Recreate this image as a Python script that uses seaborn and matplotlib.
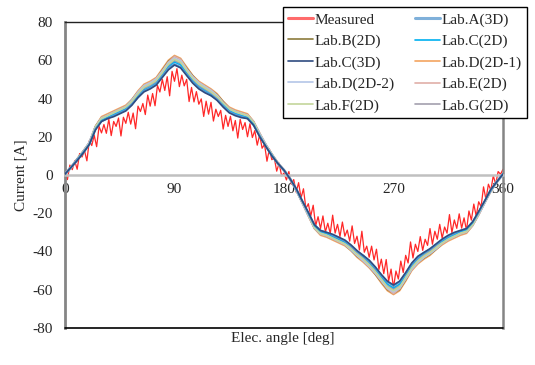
import numpy as np
import pandas as pd
import matplotlib
matplotlib.use('Agg')
import matplotlib.pyplot as plt
from matplotlib.lines import Line2D
import seaborn as sns

# measured current, every 2 deg (0..360)
angle_meas = np.arange(0, 361, 2)
measured = [
    0, -2.4, 5.2, 2.8, 7.4, 3, 11.2, 9.4, 12.8, 7.4,
    18, 15.4, 20.8, 14.8, 25.4, 22, 26.4, 21.8, 29.2, 20.6,
    28, 25.4, 29.8, 20.4, 30.2, 27, 32.8, 26.6, 32.4, 24.2,
    36, 33.2, 37.4, 31.6, 41.8, 36, 42.6, 36.2, 46.8, 43.4,
    50, 44.2, 51.4, 41.4, 54.2, 49, 55.6, 46.2, 52.2, 46.6,
    50, 38.4, 45.8, 38.2, 43.6, 37, 39.8, 30.6, 38.6, 31.8,
    38, 28.2, 34.4, 30.6, 33.8, 24, 31.2, 25.4, 30.7, 23.1,
    28.5, 19.3, 29.1, 23.8, 27.4, 20, 26.8, 19.6, 23.2, 15.6,
    21, 14, 16, 7.2, 13.6, 8, 9, 2, 6.2, -0.4,
    1,
    -2.6, 1.8, -4.8, -2.4, -9, -4, -12, -7.2, -17.6, -15,
    -21.4, -15.8, -26.6, -21.8, -28, -21.4, -29.8, -25.2, -30.6, -21,
    -30.4, -25.8, -32.2, -24.6, -32, -28.8, -34.6, -26.6, -35.8, -32,
    -39.2, -29.4, -40.4, -37.2, -43, -37.2, -44.4, -38.8, -49.4, -44,
    -51.6, -44.2, -55.4, -49.2, -59, -50.2, -54.4, -45, -51, -42,
    -46, -35, -43.4, -36.2, -40, -32.2, -39.4, -33.6, -36.8, -28,
    -36.2, -29.4, -33.6, -25.8, -33, -27.2, -30.4, -20.7, -30.1, -23.5,
    -27.9, -20.3, -27.8, -22.4, -29, -18.8, -23.6, -15.2, -21.6, -14,
    -16.6, -6.2, -12.8, -4.8, -8, -0.4, -4.8, 1.8, 0.4, 3,
]

# simulation results, every 5 deg (0..360)
angle_sim = np.arange(0, 361, 5)
lab_a_3d = [0.5, 4, 8, 11.5, 16, 24, 28, 29.5, 31, 32.5, 34, 37, 40.5, 44, 45.5, 47.5, 51.5, 56, 58,
            56.5, 52.5, 48.5, 45.5, 43.5, 41.5, 39.5, 36, 33, 31.5, 30.5, 29.5, 26, 20.5, 15, 10, 6, 2.5,
            -2, -7.5, -13.5, -20, -26, -29, -30, -31.5, -33, -34.5, -37, -40, -42, -45, -48.5, -52.5, -56, -58,
            -56, -51.5, -46.5, -43, -40.5, -39, -36.5, -34, -32, -30.5, -29, -28, -24.5, -19.5, -13.5, -8, -3.5, 0.5]
lab_b_2d = [0.5, 4, 8.5, 12.5, 17, 25.5, 30, 31.5, 33, 34.5, 36, 39.5, 43.5, 47, 48.5, 50.5, 55, 59.5, 62,
            60.5, 56, 52, 48.5, 46.5, 44.5, 42, 38.5, 35, 33.5, 32.5, 31.5, 28, 21.5, 16, 11, 6, 2.5,
            -2, -8, -14.5, -21, -28, -31, -32, -33.5, -35, -36.5, -39.5, -42.5, -45, -48, -52, -56, -60, -62,
            -60, -55, -49.5, -46, -43.5, -41.5, -39, -36, -34, -32.5, -31, -30, -26.5, -20.5, -14.5, -8.5, -3.5, 0.5]
lab_c_2d = [0.5, 4, 8, 12, 16, 24, 28.5, 30, 31.5, 33, 34.5, 37, 41, 44.5, 46, 48, 52, 56.5, 59,
            57.5, 53, 49, 46, 44, 42, 39.5, 36.5, 33.5, 32, 31, 30, 26.5, 20.5, 15, 10.5, 6, 2.5,
            -2, -7.5, -13.5, -20, -26.5, -29.5, -30.5, -32, -33.5, -35, -37, -40, -42.5, -45.5, -49, -53, -57, -59,
            -57, -52, -47, -43.5, -41, -39, -36.5, -34.5, -32.5, -31, -29.5, -28.5, -25, -19.5, -13.5, -8, -3.5, 0.5]
lab_c_3d = [0.5, 4, 7.5, 11.5, 16, 23.5, 28, 29.5, 30.5, 32, 33.5, 36.5, 40.5, 43.5, 45, 47, 51, 55, 57.5,
            56, 52, 48, 45, 43, 41.5, 39, 35.5, 32.5, 31, 30, 29.5, 26, 20, 15, 10, 6, 2.5,
            -2, -7, -13.5, -19.5, -26, -29, -30, -31, -32.5, -34, -36.5, -39.5, -42, -44.5, -48, -52, -55.5, -57.5,
            -55.5, -51, -46, -42.5, -40.5, -38.5, -36, -33.5, -31.5, -30, -29, -28, -24.5, -19, -13.5, -7.5, -3.5, 0.5]
lab_d_2d1 = [0.5, 4, 8.5, 12.5, 17, 25.5, 30.5, 32, 33.5, 35, 36.5, 39.5, 44, 47.5, 49, 51, 55.5, 60, 62.5,
             61, 56.5, 52, 49, 47, 45, 42.5, 38.5, 35.5, 34, 33, 32, 28, 22, 16, 11, 6.5, 2.5,
             -2, -8, -14.5, -21.5, -28, -31.5, -32.5, -34, -35.5, -37, -39.5, -43, -45.5, -48.5, -52, -56.5, -60.5, -62.5,
             -60.5, -55.5, -50, -46.5, -44, -42, -39, -36.5, -34.5, -33, -31.5, -30.5, -26.5, -21, -14.5, -8.5, -3.5, 0.5]
lab_d_2d2 = [0.5, 4, 8, 12, 17, 25, 29.5, 31, 32.5, 34, 35.5, 39, 43, 46.5, 48, 50, 54, 58.5, 61,
             59.5, 55, 51, 48, 46, 44, 41.5, 37.5, 34.5, 33, 32, 31, 27.5, 21.5, 16, 10.5, 6, 2.5,
             -2, -7.5, -14.5, -21, -27.5, -30.5, -31.5, -33, -34.5, -36, -39, -42, -44.5, -47.5, -51, -55, -59, -61,
             -59, -54, -49, -45.5, -43, -41, -38.5, -35.5, -33.5, -32, -30.5, -29.5, -26, -20.5, -14.5, -8, -3.5, 0.5]
lab_e_2d = [0.5, 4, 8, 12.5, 17, 25, 30, 31.5, 33, 34.5, 36, 39, 43.5, 47, 48.5, 50.5, 54.5, 59, 62,
            60.5, 55.5, 51.5, 48.5, 46.5, 44.5, 41.5, 38, 35, 33.5, 32.5, 31.5, 28, 21.5, 16, 11, 6, 2.5,
            -2, -7.5, -14.5, -21, -28, -31, -32, -33.5, -35, -36.5, -39, -42, -45, -48, -51.5, -55.5, -59.5, -62,
            -59.5, -54.5, -49.5, -46, -43, -41, -38.5, -36, -34, -32.5, -31, -30, -26.5, -20.5, -14.5, -8, -3.5, 0.5]
lab_f_2d = [0.5, 4, 8, 12, 16.5, 25, 29.5, 31, 32.5, 34, 35.5, 38.5, 42.5, 46, 47.5, 49.5, 53.5, 58, 60.5,
            59, 54.5, 50.5, 47.5, 45.5, 43.5, 41, 37.5, 34.5, 33, 32, 31, 27.5, 21, 15.5, 10.5, 6, 2.5,
            -2, -7.5, -14, -20.5, -27.5, -30.5, -31.5, -33, -34.5, -36, -38.5, -41.5, -44, -47, -50.5, -54.5, -58.5, -60.5,
            -58.5, -53.5, -48.5, -45, -42.5, -40.5, -38, -35.5, -33.5, -32, -30.5, -29.5, -26, -20, -14, -8, -3.5, 0.5]
lab_g_2d = [0.5, 4, 8, 12, 16.5, 24.5, 29, 30.5, 32, 33.5, 35, 38, 42, 45.5, 47, 49, 53, 57.5, 60,
            58.5, 54, 50, 47, 45, 43, 40.5, 37, 34, 32.5, 31.5, 30.5, 27, 21, 15.5, 10.5, 6, 2.5,
            -2, -7.5, -14, -20.5, -27, -30, -31, -32.5, -34, -35.5, -38, -41, -43.5, -46.5, -50, -54, -58, -60,
            -58, -53, -48, -44.5, -42, -40, -37.5, -35, -33, -31.5, -30, -29, -25.5, -20, -14, -8, -3.5, 0.5]

labs = ['Lab.A(3D)', 'Lab.B(2D)', 'Lab.C(2D)', 'Lab.C(3D)', 'Lab.D(2D-1)',
        'Lab.D(2D-2)', 'Lab.E(2D)', 'Lab.F(2D)', 'Lab.G(2D)']
sims = [lab_a_3d, lab_b_2d, lab_c_2d, lab_c_3d, lab_d_2d1,
        lab_d_2d2, lab_e_2d, lab_f_2d, lab_g_2d]
colors = {'Measured': '#FF1010',
          'Lab.A(3D)': '#5B9BD5', 'Lab.B(2D)': '#8C7B3C', 'Lab.C(2D)': '#00B0F0',
          'Lab.C(3D)': '#2F4C80', 'Lab.D(2D-1)': '#F4A460', 'Lab.D(2D-2)': '#B4C6E7',
          'Lab.E(2D)': '#E0AFA8', 'Lab.F(2D)': '#C3D69B', 'Lab.G(2D)': '#A3A0AE'}
widths = {'Lab.A(3D)': 1.3, 'Lab.B(2D)': 1.0, 'Lab.C(2D)': 1.0, 'Lab.C(3D)': 1.2,
          'Lab.D(2D-1)': 1.2, 'Lab.D(2D-2)': 1.5, 'Lab.E(2D)': 1.2, 'Lab.F(2D)': 1.2,
          'Lab.G(2D)': 2.0}
draw_order = ['Lab.D(2D-1)', 'Lab.B(2D)', 'Lab.E(2D)', 'Lab.G(2D)', 'Lab.D(2D-2)',
              'Lab.F(2D)', 'Lab.C(2D)', 'Lab.A(3D)', 'Lab.C(3D)']

df_meas = pd.DataFrame({'angle': angle_meas, 'current': measured})
df_sim = pd.concat([pd.DataFrame({'angle': angle_sim, 'current': v, 'lab': name})
                    for name, v in zip(labs, sims)], ignore_index=True)

sns.set_style('white')
plt.rcParams['font.family'] = ['Liberation Serif', 'DejaVu Serif']
plt.rcParams['font.size'] = 11
plt.rcParams['axes.unicode_minus'] = False

fig = plt.figure(figsize=(5.35, 3.65), dpi=100)
ax = fig.add_axes([65 / 535, 1 - 328 / 365, 438 / 535, 306 / 365])

sns.lineplot(data=df_meas, x='angle', y='current', color=colors['Measured'],
             lw=0.9, alpha=0.9, ax=ax, zorder=2)
for name in draw_order:
    sns.lineplot(data=df_sim[df_sim['lab'] == name], x='angle', y='current',
                 color=colors[name], lw=widths[name], ax=ax, zorder=3)

ax.set_xlim(0, 360)
ax.set_ylim(-80, 80)
ax.set_xticks([0, 90, 180, 270, 360])
ax.set_yticks(range(-80, 81, 20))

ax.spines['bottom'].set_position(('data', 0))
ax.spines['bottom'].set_color('#C0C0C0')
ax.spines['bottom'].set_linewidth(1.8)
ax.spines['left'].set_color('#858585')
ax.spines['left'].set_linewidth(2)
ax.spines['top'].set_color('#222222')
ax.spines['top'].set_linewidth(1)
ax.spines['right'].set_color('#858585')
ax.spines['right'].set_linewidth(1.8)
ax.axhline(-80, color='black', lw=1.2, zorder=5, clip_on=False)

ax.tick_params(axis='x', direction='in', length=4, color='#A0A0A0', pad=6, labelsize=11)
ax.tick_params(axis='y', direction='in', length=4, color='#858585', pad=9, labelsize=11)

ax.set_xlabel('Elec. angle [deg]', fontsize=11)
ax.set_ylabel('Current [A]', fontsize=11)
ax.xaxis.set_label_coords(0.498, -0.013)
ax.yaxis.set_label_coords(-0.085, 0.5)

col1 = ['Measured', 'Lab.B(2D)', 'Lab.C(3D)', 'Lab.D(2D-2)', 'Lab.F(2D)']
col2 = ['Lab.A(3D)', 'Lab.C(2D)', 'Lab.D(2D-1)', 'Lab.E(2D)', 'Lab.G(2D)']
leg_w = {'Measured': 2.2, 'Lab.A(3D)': 2.2}
handles = [Line2D([], [], color=('#FF6B6B' if n == 'Measured' else ('#7FB0DA' if n == 'Lab.A(3D)' else colors[n])),
                  lw=leg_w.get(n, 1.2)) for n in col1 + col2]
leg = ax.legend(handles, col1 + col2, ncol=2, loc='upper right',
                bbox_to_anchor=(527 / 535, 1 - 7 / 365), bbox_transform=fig.transFigure,
                frameon=True, fancybox=False, framealpha=1, edgecolor='black',
                borderaxespad=0, handlelength=1.6, handletextpad=0.1,
                columnspacing=1.35, labelspacing=0.5, borderpad=0.38, fontsize=11)
leg.get_frame().set_linewidth(1.0)
leg.set_zorder(10)

fig.savefig('out.png', dpi=100)
